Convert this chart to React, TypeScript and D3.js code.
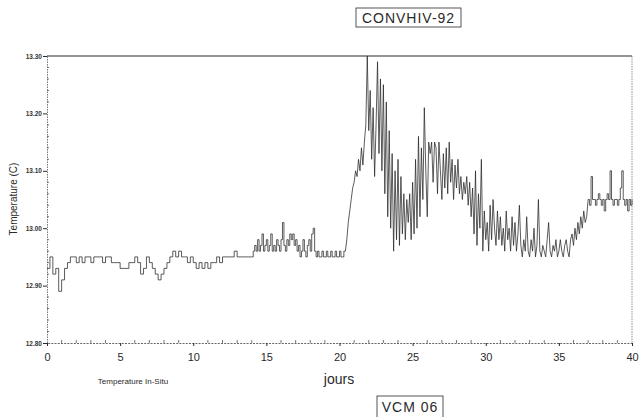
import React, { useEffect, useRef } from 'react';
import * as d3 from 'd3';

// hourly-ish temperature record, split in segments (start day, step, values)
const calmStart = 0;
const calmStep = 0.2;
const calmTemps = [
  12.93, 12.95, 12.92, 12.93, 12.89, 12.91, 12.93, 12.94, 12.95, 12.95,
  12.94, 12.95, 12.94, 12.95, 12.95, 12.94, 12.95, 12.95, 12.95, 12.94,
  12.95, 12.95, 12.94, 12.94, 12.94, 12.93, 12.93, 12.93, 12.94, 12.94,
  12.95, 12.94, 12.92, 12.93, 12.95, 12.94, 12.93, 12.92, 12.91, 12.92,
  12.93, 12.94, 12.95, 12.96, 12.95, 12.96, 12.95, 12.95, 12.94, 12.95,
  12.94, 12.93, 12.94, 12.93, 12.94, 12.93, 12.94, 12.94, 12.95, 12.94,
  12.95, 12.95, 12.95, 12.95, 12.96, 12.95, 12.95, 12.95, 12.95, 12.95,
];

const riseStart = 14;
const riseStep = 0.1;
const riseTemps = [
  12.95, 12.96, 12.97, 12.96, 12.98, 12.96, 12.97, 12.99, 12.96, 12.97,
  12.98, 12.96, 12.97, 12.99, 12.96, 12.97, 12.96, 12.98, 12.97, 12.96,
  12.98, 13.01, 12.97, 12.96, 12.98, 12.97, 12.99, 12.98, 12.99, 12.97,
  12.98, 12.96, 12.97, 12.95, 12.96, 12.98, 12.96, 12.95, 12.97, 12.98,
  12.96, 12.99, 13.00, 12.96, 12.95, 12.96, 12.95, 12.95, 12.96, 12.95,
  12.95, 12.96, 12.95, 12.95, 12.96, 12.95, 12.95, 12.96, 12.95, 12.95,
  12.96, 12.95, 12.95, 12.96,
];

const stormStart = 20.4;
const stormStep = 0.1;
const stormTemps = [
  12.96, 12.98, 13.01, 13.03, 13.05, 13.07, 13.08, 13.10, 13.09, 13.12,
  13.10, 13.14, 13.11, 13.15, 13.18, 13.30, 13.17, 13.24, 13.12, 13.21,
  13.09, 13.18, 13.29, 13.13, 13.26, 13.10, 13.25, 13.06, 13.22, 13.02,
  13.17, 13.00, 13.13, 12.96, 13.10, 12.98, 13.12, 12.97, 13.09, 12.99,
  13.06, 12.98, 13.05, 13.01, 13.06, 12.98, 13.08, 12.99, 13.12, 13.00,
  13.16, 13.02, 13.14, 13.05, 13.21, 13.10, 13.02, 13.15, 13.13, 13.15,
  13.08, 13.15, 13.14, 13.06, 13.15, 13.10, 13.05, 13.13, 13.07, 13.14,
  13.06, 13.15, 13.08, 13.12, 13.05, 13.11, 13.07, 13.12, 13.06, 13.09,
  13.05, 13.08, 13.06, 13.09, 13.04, 13.08, 13.02, 13.07, 12.99, 13.10,
  12.97, 13.06, 13.00, 13.12, 12.96, 13.03, 12.98, 13.01, 12.96, 13.04,
  12.98, 13.05, 13.00, 12.97, 13.03, 12.98, 13.02, 12.97, 13.00, 12.96,
  13.03, 12.98, 13.00, 12.96, 13.02, 12.97, 13.01, 12.96, 12.99, 13.04,
  12.97, 12.95, 12.98, 12.96, 13.02, 12.96, 12.95, 12.98, 12.96, 13.00,
  12.95, 12.97, 13.05, 12.96, 12.95, 12.97, 12.96, 12.95, 12.98, 13.01,
  12.96, 12.95, 12.97, 12.96, 12.98, 12.95, 12.96, 12.98, 12.96, 12.95,
  12.97, 12.98, 12.96, 12.95, 12.98, 12.99, 12.97, 13.00, 12.98, 13.01,
  12.99, 13.02, 13.00, 13.03, 13.01, 13.02,
];

const lateStart = 37;
const lateStep = 0.1;
const lateTemps = [
  13.05, 13.04, 13.09, 13.05, 13.05, 13.04, 13.05, 13.06, 13.05, 13.04,
  13.05, 13.03, 13.05, 13.06, 13.05, 13.10, 13.05, 13.04, 13.05, 13.05,
  13.04, 13.05, 13.07, 13.10, 13.05, 13.04, 13.05, 13.03, 13.05, 13.04,
  13.05,
];

const xTicks = [0, 5, 10, 15, 20, 25, 30, 35, 40];
const yTicks = [12.8, 12.9, 13.0, 13.1, 13.2, 13.3];

type Pt = { day: number; temp: number };

function seg(start: number, step: number, vals: number[]): Pt[] {
  return vals.map((v, i) => ({ day: +(start + i * step).toFixed(2), temp: v }));
}

const App = () => {
  const ref = useRef<SVGSVGElement>(null);

  useEffect(() => {
    const svg = d3.select(ref.current);
    svg.selectAll('*').remove();

    const left = 47, right = 632, top = 56, bottom = 343;
    const ink = '#2a2a2a';
    const font = 'Liberation Sans, Arial, sans-serif';

    const x = d3.scaleLinear().domain([0, 40]).range([left, right]);
    const y = d3.scaleLinear().domain([12.8, 13.3]).range([bottom, top]);

    const quiet = [
      ...seg(calmStart, calmStep, calmTemps),
      ...seg(riseStart, riseStep, riseTemps),
    ];
    const storm = seg(stormStart, stormStep, stormTemps);
    const late = seg(lateStart, lateStep, lateTemps);

    // frame
    svg.append('line')
      .attr('x1', left).attr('x2', right).attr('y1', top).attr('y2', top)
      .attr('stroke', ink).attr('stroke-width', 1);
    svg.append('line')
      .attr('x1', right).attr('x2', right).attr('y1', top).attr('y2', bottom)
      .attr('stroke', '#777').attr('stroke-width', 0.8).attr('stroke-dasharray', '1.5,1');

    // y axis
    const yAxis = d3.axisLeft(y)
      .tickValues(yTicks)
      .tickSize(4)
      .tickFormat(d3.format('.2f'));
    const yg = svg.append('g').attr('transform', `translate(${left},0)`).call(yAxis);
    yg.select('.domain').attr('stroke', '#555').attr('stroke-width', 0.8).attr('stroke-dasharray', '1.5,1');
    yg.selectAll('.tick line').attr('stroke', ink);
    yg.selectAll('.tick text')
      .attr('font-family', font)
      .attr('font-size', 6.5)
      .attr('font-weight', 'bold')
      .attr('fill', '#333')
      .attr('x', -5);

    const yMinor = d3.range(12.82, 13.3, 0.02).filter(v => Math.abs((v * 10) % 1) > 0.05 && Math.abs((v * 10) % 1) < 0.95);
    svg.append('g').selectAll('line').data(yMinor).enter().append('line')
      .attr('x1', left).attr('x2', left + 2)
      .attr('y1', d => y(d)).attr('y2', d => y(d))
      .attr('stroke', '#555').attr('stroke-width', 0.8);

    // x axis
    const xAxis = d3.axisBottom(x).tickValues(xTicks).tickSize(3).tickFormat(d3.format('d'));
    const xg = svg.append('g').attr('transform', `translate(0,${bottom})`).call(xAxis);
    xg.select('.domain').attr('stroke', '#555').attr('stroke-width', 0.9).attr('stroke-dasharray', '2,1.2');
    xg.selectAll('.tick line').attr('stroke', ink);
    xg.selectAll('.tick text')
      .attr('font-family', font)
      .attr('font-size', 11)
      .attr('fill', ink)
      .attr('y', 10);

    const xMinor = d3.range(1, 40).filter(d => d % 5 !== 0);
    svg.append('g').selectAll('line').data(xMinor).enter().append('line')
      .attr('x1', d => x(d)).attr('x2', d => x(d))
      .attr('y1', bottom).attr('y2', bottom - 3)
      .attr('stroke', '#555').attr('stroke-width', 0.8);

    // temperature trace: stepped where quiet, straight spikes in the storm
    const stepLine = d3.line<Pt>().x(d => x(d.day)).y(d => y(d.temp)).curve(d3.curveStepAfter);
    const spikeLine = d3.line<Pt>().x(d => x(d.day)).y(d => y(d.temp));
    const trace = (pts: Pt[], gen: d3.Line<Pt>) =>
      svg.append('path')
        .datum(pts)
        .attr('d', gen)
        .attr('fill', 'none')
        .attr('stroke', '#262626')
        .attr('stroke-width', 0.75);
    trace(quiet, stepLine);
    trace([quiet[quiet.length - 1], ...storm, late[0]], spikeLine);
    trace(late, stepLine);

    // labels
    svg.append('text')
      .attr('transform', 'translate(17,199) rotate(-90)')
      .attr('text-anchor', 'middle')
      .attr('font-family', font).attr('font-size', 10).attr('fill', ink)
      .text('Temperature (C)');
    svg.append('text')
      .attr('x', 133).attr('y', 384)
      .attr('text-anchor', 'middle')
      .attr('font-family', font).attr('font-size', 8).attr('fill', ink)
      .text('Temperature In-Situ');
    svg.append('text')
      .attr('x', 339).attr('y', 384)
      .attr('text-anchor', 'middle')
      .attr('font-family', font).attr('font-size', 14).attr('fill', ink)
      .text('jours');

    // boxed titles
    const boxed = (cx: number, yTop: number, w: number, h: number, label: string) => {
      svg.append('rect')
        .attr('x', cx - w / 2).attr('y', yTop).attr('width', w).attr('height', h)
        .attr('fill', 'none').attr('stroke', ink).attr('stroke-width', 0.8);
      svg.append('text')
        .attr('x', cx).attr('y', yTop + h / 2 + 5)
        .attr('text-anchor', 'middle')
        .attr('font-family', font).attr('font-size', 14).attr('letter-spacing', 1)
        .attr('fill', ink)
        .text(label);
    };
    boxed(408.5, 8, 105, 19, 'CONVHIV-92');
    boxed(410, 396, 66, 22, 'VCM 06');
  }, []);

  return (
    <svg ref={ref} width={639} height={417}
      style={{ position: 'absolute', left: 0, top: 0, background: '#fff' }} />
  );
};

export default App;
